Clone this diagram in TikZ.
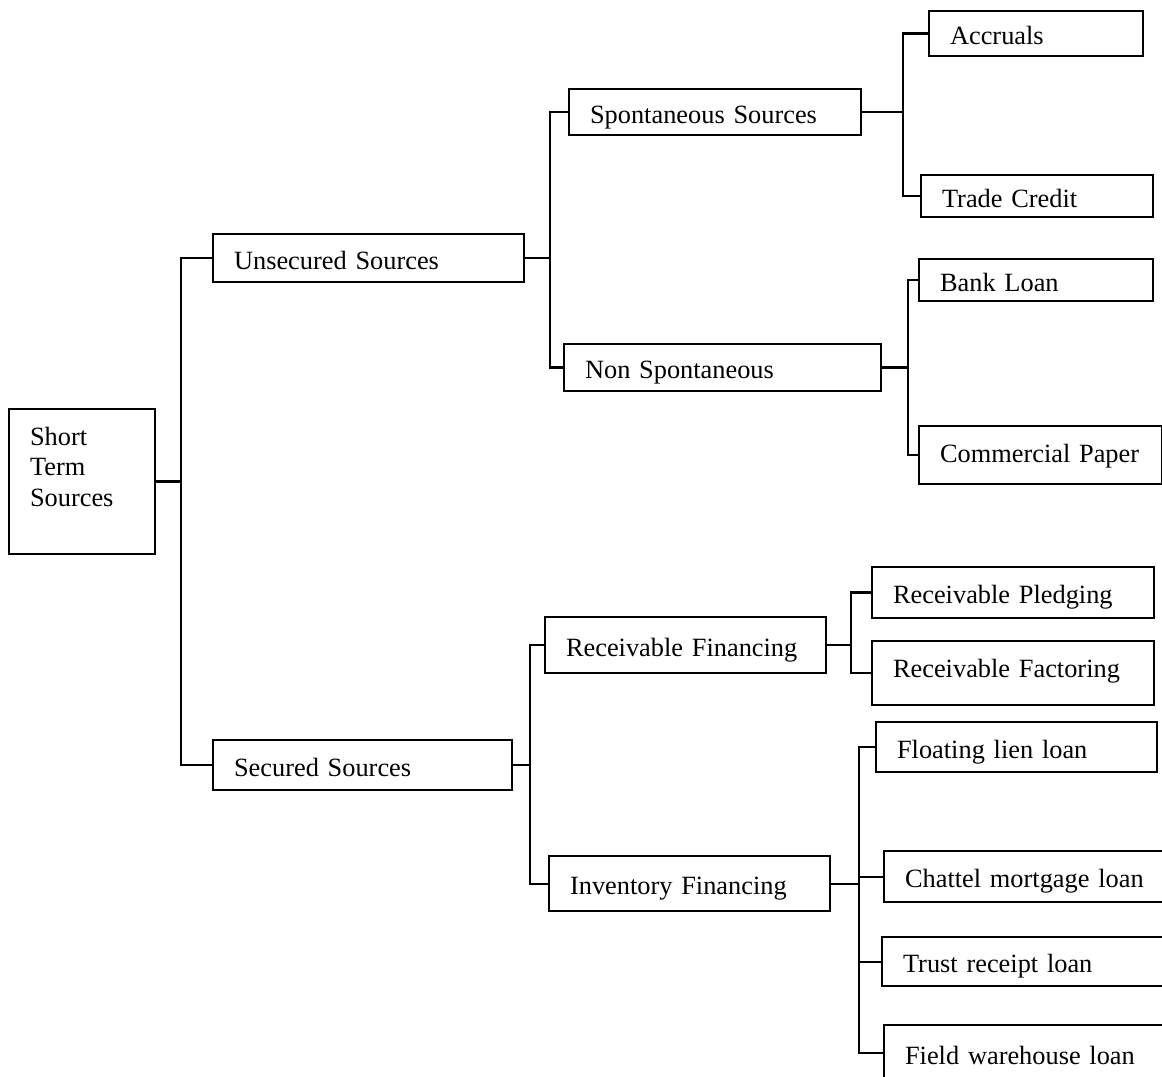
\documentclass[tikz,border=0pt]{standalone}
\usepackage{fontspec}
\setmainfont{Liberation Serif}
\usepackage{tikz}

\tikzset{
    srcbox/.style={draw, line width=1.2pt, anchor=north west, align=left,
        inner xsep=0.42cm, inner ysep=0pt, text height=0.6cm, text depth=0.16cm,
        font=\fontsize{15pt}{17.25pt}\selectfont},
    link/.style={line width=1.2pt}
}

\begin{document}
\begin{tikzpicture}[x=0.02cm, y=-0.02cm]
    \useasboundingbox (0,0) rectangle (1162,1077);
    % Raiz
    \node[srcbox, text width=2.08cm, minimum height=2.9cm, text depth=2.04cm] (root) at (8,408) {Short\\Term\\Sources};
    % Primer nivel
    \node[srcbox, text width=5.38cm, minimum height=0.96cm] (uns) at (212,233) {Unsecured Sources};
    \node[srcbox, text width=5.14cm, minimum height=1.0cm] (sec) at (212,739) {Secured Sources};
    % Segundo nivel
    \node[srcbox, text width=5.0cm, minimum height=0.92cm] (spon) at (568,88) {Spontaneous Sources};
    \node[srcbox, text width=5.5cm, minimum height=0.94cm] (nons) at (563,343) {Non Spontaneous};
    \node[srcbox, text width=4.78cm, minimum height=1.12cm] (recfin) at (544,616) {Receivable Financing};
    \node[srcbox, text width=4.78cm, minimum height=1.1cm] (invfin) at (548,855) {Inventory Financing};
    % Tercer nivel
    \node[srcbox, text width=3.44cm, minimum height=0.9cm] (accr) at (928,10) {Accruals};
    \node[srcbox, text width=3.8cm, minimum height=0.84cm] (trade) at (920,174) {Trade Credit};
    \node[srcbox, text width=3.84cm, minimum height=0.84cm] (bank) at (918,258) {Bank Loan};
    \node[srcbox, text width=4.02cm, minimum height=1.16cm, text depth=0.32cm] (comm) at (918,425) {Commercial Paper};
    \node[srcbox, text width=4.8cm, minimum height=1.02cm] (pledg) at (871,566) {Receivable Pledging};
    \node[srcbox, text width=4.8cm, minimum height=1.28cm, text depth=0.44cm] (fact) at (871,640) {Receivable Factoring};
    \node[srcbox, text width=4.78cm, minimum height=1.0cm] (float) at (875,721) {Floating lien loan};
    \node[srcbox, text width=5.16cm, minimum height=1.02cm] (chat) at (883,850) {Chattel mortgage loan};
    \node[srcbox, text width=5.16cm, minimum height=0.98cm] (trust) at (881,936) {Trust receipt loan};
    \node[srcbox, text width=5.16cm, minimum height=1.12cm] (field) at (883,1024) {Field warehouse loan};

    % Conectores
    \foreach \kid in {uns,sec}
        \draw[link] (root.east) -- ++(25,0) |- (\kid.west);
    \foreach \kid in {spon,nons}
        \draw[link] (uns.east) -- ++(25,0) |- (\kid.west);
    \foreach \kid in {recfin,invfin}
        \draw[link] (sec.east) -- ++(17,0) |- (\kid.west);
    \foreach \kid in {accr,trade}
        \draw[link] (spon.east) -- ++(41,0) |- (\kid.west);
    \foreach \kid in {bank,comm}
        \draw[link] (nons.east) -- ++(26,0) |- (\kid.west);
    \foreach \kid in {pledg,fact}
        \draw[link] (recfin.east) -- ++(24,0) |- (\kid.west);
    \foreach \kid in {float,chat,trust,field}
        \draw[link] (invfin.east) -- ++(28,0) |- (\kid.west);
\end{tikzpicture}
\end{document}
